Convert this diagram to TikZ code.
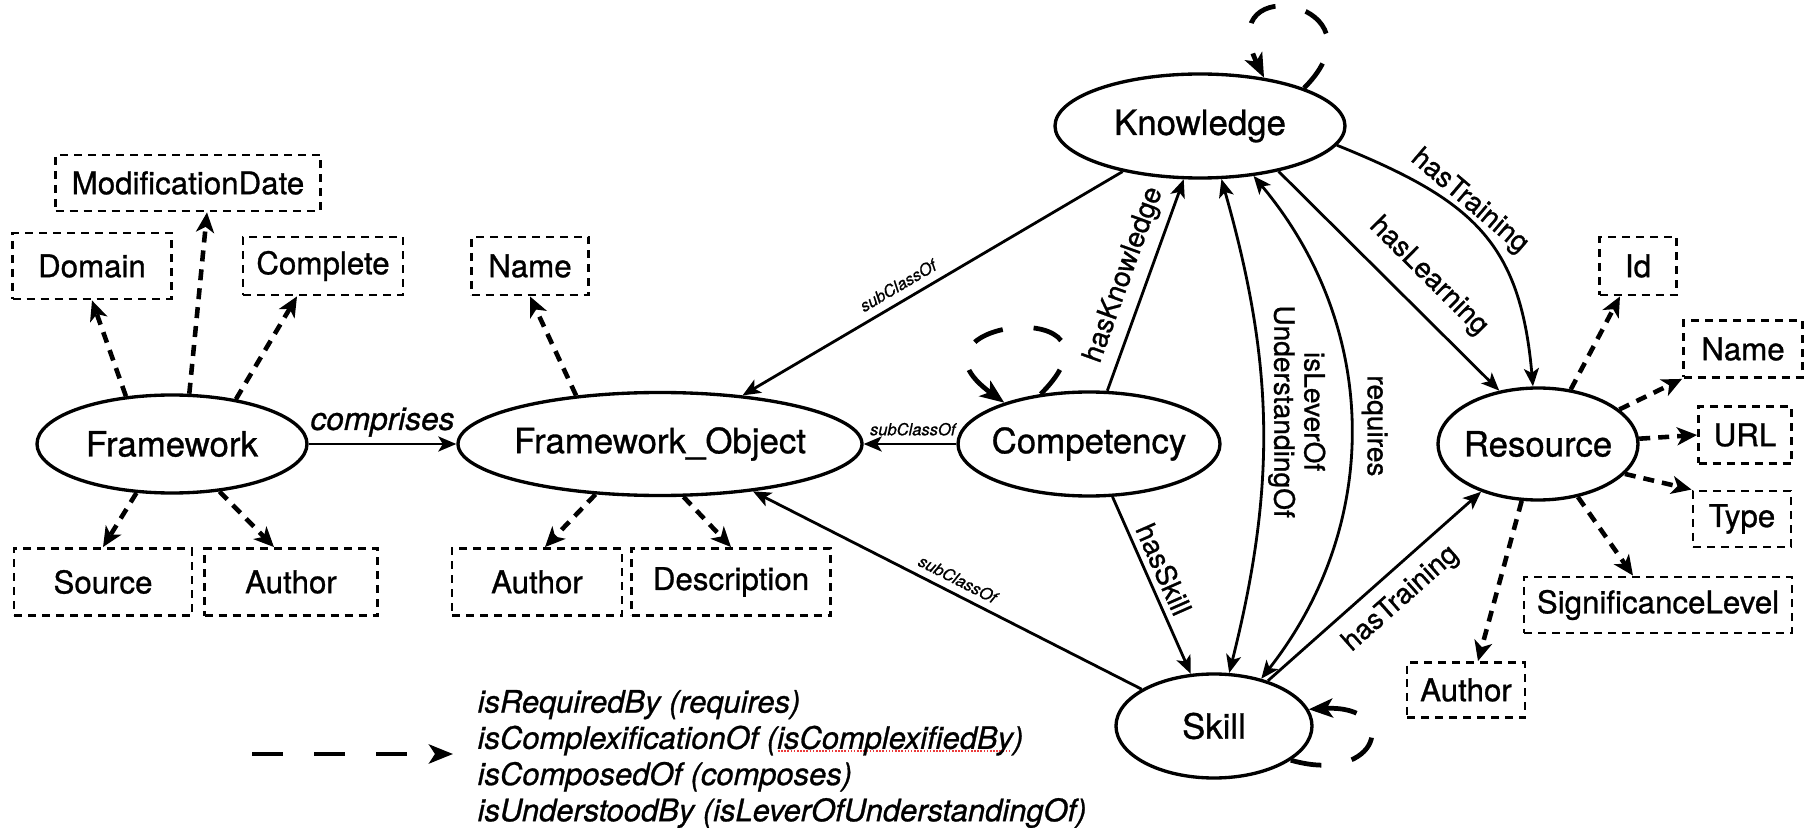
\documentclass[tikz,border=0pt]{standalone}
\usepackage{fontspec}
\setmainfont{TeX Gyre Heros}[UprightFeatures={FakeBold=0.9}, ItalicFeatures={FakeBold=0.9}]
\usetikzlibrary{arrows.meta,shapes.geometric}
\definecolor{spellred}{RGB}{235,60,60}

\newlength\spellwd
\newcommand\spellmark[1]{\settowidth{\spellwd}{#1}\rlap{\raisebox{-0.8pt}{\color{spellred}\leaders\hbox to 0.9pt{\hss\rule{0.45pt}{0.45pt}\hss}\hskip\spellwd}}#1}

\tikzset{
  concept/.style={ellipse, draw, line width=0.95pt, inner xsep=-1mm, inner ysep=0pt, font=\fontsize{9.9}{12}\selectfont},
  attrbox/.style={draw, line width=0.8pt, dash pattern=on 0.8mm off 0.6mm, inner sep=0pt, font=\fontsize{8.9}{11}\selectfont},
  attrarrow/.style={line width=1.3pt, dash pattern=on 1.1mm off 0.8mm, -{Stealth[length=2mm,width=1.8mm,inset=0.55mm]}},
  relarrow/.style={line width=0.8pt, -{Stealth[length=1.8mm,width=1.5mm,inset=0.45mm]}},
  dualarrow/.style={line width=0.8pt, {Stealth[length=1.8mm,width=1.5mm,inset=0.45mm]}-{Stealth[length=1.8mm,width=1.5mm,inset=0.45mm]}},
  looparrow/.style={line width=1.35pt, dash pattern=on 3.1mm off 3.1mm, -{Stealth[length=2.4mm,width=1.9mm,inset=0.6mm]}},
  rellabel/.style={font=\fontsize{8}{9.6}\selectfont, inner sep=1pt},
  sublabel/.style={font=\fontsize{4.7}{5.6}\selectfont\itshape, inner sep=1pt},
}

\begin{document}
\begin{tikzpicture}[x=0.1mm,y=0.1mm]
\useasboundingbox (0,0) rectangle (1810,827);
% Draw the concepts
\node[concept, minimum width=27mm, minimum height=9.8mm] (fw) at (172,383) {Framework};
\node[concept, minimum width=40.4mm, minimum height=10.3mm] (fo) at (660,383) {Framework\_Object};
\node[concept, minimum width=26.2mm, minimum height=10.4mm] (comp) at (1089,383) {Competency};
\node[concept, minimum width=29mm, minimum height=10.4mm] (know) at (1200,701) {Knowledge};
\node[concept, minimum width=19.6mm, minimum height=10.4mm] (skill) at (1214,101) {Skill};
\node[concept, minimum width=20mm, minimum height=11.2mm] (res) at (1538,383) {Resource};
% Draw the attribute boxes
\node[attrbox, minimum width=26.5mm, minimum height=5.6mm] (modDate) at (188,644) {ModificationDate};
\node[attrbox, minimum width=15.9mm, minimum height=6.6mm] (domain) at (92,561) {Domain};
\node[attrbox, minimum width=16mm, minimum height=5.8mm] (complete) at (323,561) {Complete};
\node[attrbox, minimum width=17.8mm, minimum height=6.7mm] (source) at (103,245) {Source};
\node[attrbox, minimum width=17.3mm, minimum height=6.7mm] (fwAuthor) at (291,245) {Author};
\node[attrbox, minimum width=11.7mm, minimum height=5.8mm] (foName) at (530,561) {Name};
\node[attrbox, minimum width=17mm, minimum height=6.7mm] (foAuthor) at (537,245) {Author};
\node[attrbox, minimum width=19.9mm, minimum height=6.7mm] (descr) at (731,245) {Description};
\node[attrbox, minimum width=7.7mm, minimum height=5.8mm] (resId) at (1638,561) {Id};
\node[attrbox, minimum width=11.9mm, minimum height=5.7mm] (resName) at (1743,478) {Name};
\node[attrbox, minimum width=9.3mm, minimum height=5.7mm] (url) at (1745,392) {URL};
\node[attrbox, minimum width=9.8mm, minimum height=5.6mm] (type) at (1742,308) {Type};
\node[attrbox, minimum width=26.8mm, minimum height=5.6mm] (signif) at (1658,222) {SignificanceLevel};
\node[attrbox, minimum width=11.8mm, minimum height=5.5mm] (resAuthor) at (1466,137) {Author};
% Draw the attribute arrows
\draw[attrarrow] (fw.134) -- (domain.south);
\draw[attrarrow] (fw.71) -- ([xshift=1.9mm]modDate.south);
\draw[attrarrow] (fw.35) -- ([xshift=-2.6mm]complete.south);
\draw[attrarrow] (fw.-126) -- (source.north);
\draw[attrarrow] (fw.-45) -- ([xshift=-1.7mm]fwAuthor.north);
\draw[attrarrow] (fo.150) -- (foName.south);
\draw[attrarrow] (fo.-142) -- ([xshift=0.8mm]foAuthor.north);
\draw[attrarrow] (fo.-66) -- (descr.north);
\draw[attrarrow] (res.59) -- ([xshift=-1.8mm]resId.south);
\draw[attrarrow] (res.23) -- (resName.south west);
\draw[attrarrow] (res.3) -- (url.west);
\draw[attrarrow] (res.-19) -- (type.north west);
\draw[attrarrow] (res.-53) -- ([xshift=-2.5mm]signif.north);
\draw[attrarrow] (res.-106) -- ([xshift=1.2mm]resAuthor.north);
% Draw the relations
\draw[relarrow] (fw) -- node[midway, above=0.7pt, inner sep=1pt, font=\fontsize{9}{11}\selectfont\itshape] {comprises} (fo);
\draw[relarrow] (know) -- node[sublabel, pos=.57, above=1.3pt, sloped] {subClassOf} (fo);
\draw[relarrow] (comp) -- node[sublabel, pos=.47, above=1pt] {subClassOf} (fo);
\draw[relarrow] (skill) -- node[sublabel, pos=.49, above=1pt, sloped] {subClassOf} (fo);
\draw[relarrow] (comp.71) -- node[rellabel, pos=.51, above=1.5pt, sloped] {hasKnowledge} (know.-107);
\draw[relarrow] (comp.-66) -- node[rellabel, pos=.45, above=0.6pt, sloped] {hasSkill} (skill.114);
\draw[dualarrow] (know.-68) to[bend left=15] node[rellabel, pos=.47, rotate=-90, anchor=south, inner sep=1.2pt, align=center, font=\fontsize{8}{8.6}\selectfont] {isLeverOf\\UnderstandingOf} (skill.74);
\draw[dualarrow] (know.-43) to[bend left=39] node[rellabel, midway, rotate=-90, anchor=south, inner sep=2.8pt] {requires} (skill.45);
\draw[relarrow] (know.-30) -- node[rellabel, pos=.58, above=3.7pt, sloped] {hasLearning} (res.126);
\draw[relarrow] (know.-8) to[out=-22, in=95, looseness=1.2] node[rellabel, pos=.4, above=-1.3pt, sloped] {hasTraining} (res.95);
\draw[relarrow] (skill.40) -- node[rellabel, pos=.54, below=2.5pt, sloped] {hasTraining} (res.-140);
% Draw the self loops
\draw[looparrow] (know.20) .. controls +(45:122) and +(116:122) .. (know.37);
\draw[looparrow] (comp.134) .. controls +(45:143) and +(144:143) .. (comp.154);
\draw[looparrow] (skill.-24) .. controls +(-16:93) and +(3:93) .. (skill.10);
% Legend
\coordinate (legstart) at (252,73);
\coordinate (legtip) at (453,73);
\draw[looparrow] (legstart) -- (legtip);
\node[anchor=west, align=left, inner sep=0pt, font=\fontsize{8.8}{10.3}\selectfont\itshape] (legtext) at (477,68) {isRequiredBy (requires)\\isComplexificationOf (\spellmark{isComplexifiedBy})\\isComposedOf (composes)\\isUnderstoodBy (isLeverOfUnderstandingOf)};
\end{tikzpicture}
\end{document}
